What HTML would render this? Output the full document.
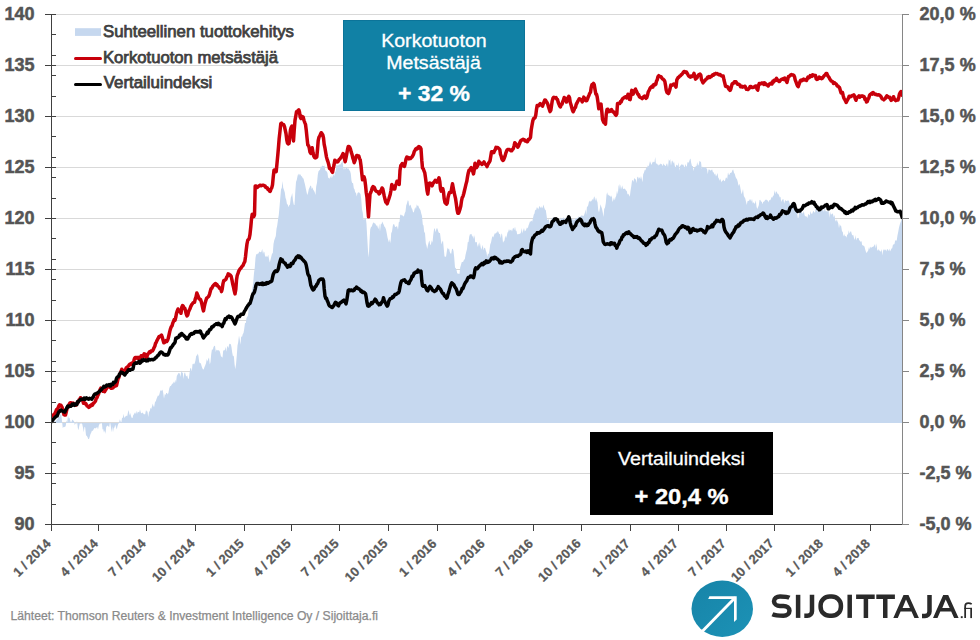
<!DOCTYPE html>
<html><head><meta charset="utf-8"><style>
html,body{margin:0;padding:0;background:#fff;}
body{width:980px;height:640px;overflow:hidden;position:relative;font-family:"Liberation Sans",sans-serif;}
svg{position:absolute;left:0;top:0;}
</style></head><body>
<svg width="980" height="640" viewBox="0 0 980 640" font-family="Liberation Sans, sans-serif">
<g stroke="#d9d9d9" stroke-width="1" shape-rendering="crispEdges">
<line x1="51.5" y1="473.5" x2="902.5" y2="473.5"/>
<line x1="51.5" y1="422.5" x2="902.5" y2="422.5"/>
<line x1="51.5" y1="371.5" x2="902.5" y2="371.5"/>
<line x1="51.5" y1="320.5" x2="902.5" y2="320.5"/>
<line x1="51.5" y1="269.5" x2="902.5" y2="269.5"/>
<line x1="51.5" y1="218.5" x2="902.5" y2="218.5"/>
<line x1="51.5" y1="167.5" x2="902.5" y2="167.5"/>
<line x1="51.5" y1="116.5" x2="902.5" y2="116.5"/>
<line x1="51.5" y1="65.5" x2="902.5" y2="65.5"/>
<line x1="51.5" y1="14.5" x2="902.5" y2="14.5"/>
</g>
<defs><clipPath id="pc"><rect x="51.5" y="0" width="851" height="524"/></clipPath></defs>
<g clip-path="url(#pc)">
<polygon points="51.5,423.0 51.5,422.5 52.2,421.8 53.0,421.2 53.8,421.1 54.5,421.3 55.2,421.4 56.0,420.9 56.8,419.8 57.5,418.9 58.2,418.0 59.0,417.1 59.8,416.2 60.5,414.6 61.2,413.6 62.0,421.1 62.8,428.3 63.5,427.0 64.2,426.7 65.0,427.2 65.8,425.4 66.5,420.3 67.2,422.6 68.0,415.1 68.8,418.5 69.5,417.4 70.2,420.6 71.0,422.9 71.8,420.8 72.5,419.5 73.2,420.6 74.0,420.9 74.8,425.2 75.5,423.0 76.2,424.5 77.0,420.7 77.8,428.1 78.5,430.3 79.2,426.2 80.0,422.9 80.8,423.9 81.5,423.3 82.2,423.9 83.0,427.8 83.8,432.2 84.5,426.8 85.2,427.6 86.0,435.2 86.8,436.0 87.5,437.0 88.2,439.0 89.0,439.1 89.8,436.5 90.5,433.9 91.2,432.8 92.0,430.6 92.8,431.0 93.5,429.6 94.2,428.3 95.0,428.1 95.8,428.4 96.5,427.6 97.2,427.0 98.0,429.6 98.8,425.6 99.5,424.0 100.2,422.9 101.0,424.3 101.8,422.0 102.5,429.6 103.2,429.0 104.0,432.7 104.8,430.3 105.5,434.1 106.2,427.1 107.0,426.1 107.8,425.5 108.5,426.6 109.2,426.9 110.0,422.0 110.8,426.0 111.5,432.6 112.2,426.2 113.0,432.2 113.8,427.9 114.5,427.4 115.2,424.6 116.0,427.2 116.8,429.4 117.5,426.3 118.2,424.0 119.0,423.1 119.8,419.3 120.5,420.9 121.2,423.4 122.0,418.1 122.8,417.8 123.5,413.8 124.2,418.3 125.0,416.4 125.8,416.5 126.5,415.4 127.2,416.2 128.0,412.2 128.8,410.0 129.5,415.4 130.2,413.1 131.0,416.0 131.8,417.9 132.5,417.9 133.2,415.3 134.0,414.2 134.8,412.5 135.5,414.1 136.2,410.7 137.0,413.9 137.8,411.8 138.5,412.1 139.2,412.4 140.0,409.6 140.8,412.4 141.5,413.6 142.2,412.4 143.0,413.0 143.8,414.3 144.5,414.2 145.2,414.2 146.0,410.0 146.8,411.4 147.5,411.5 148.2,416.9 149.0,412.1 149.8,411.1 150.5,407.8 151.2,409.1 152.0,406.4 152.8,403.4 153.5,406.5 154.2,406.8 155.0,402.0 155.8,401.2 156.5,398.9 157.2,397.2 158.0,395.2 158.8,396.1 159.5,393.7 160.2,391.0 161.0,389.9 161.8,390.9 162.5,389.5 163.2,392.7 164.0,398.8 164.8,394.0 165.5,394.9 166.2,393.1 167.0,393.1 167.8,394.4 168.5,392.5 169.2,388.6 170.0,386.3 170.8,386.1 171.5,385.0 172.2,383.5 173.0,383.7 173.8,381.4 174.5,383.2 175.2,379.7 176.0,382.7 176.8,375.9 177.5,374.7 178.2,373.5 179.0,372.7 179.8,373.8 180.5,376.9 181.2,370.5 182.0,372.9 182.8,372.2 183.5,379.3 184.2,373.6 185.0,372.2 185.8,375.6 186.5,376.5 187.2,375.2 188.0,378.5 188.8,379.0 189.5,373.6 190.2,368.4 191.0,367.9 191.8,371.6 192.5,364.2 193.2,363.6 194.0,364.6 194.8,363.1 195.5,360.2 196.2,355.8 197.0,355.4 197.8,353.5 198.5,356.2 199.2,362.1 200.0,363.6 200.8,363.1 201.5,365.7 202.2,367.8 203.0,369.4 203.8,369.2 204.5,367.1 205.2,365.4 206.0,363.3 206.8,359.0 207.5,361.4 208.2,359.0 209.0,357.6 209.8,364.5 210.5,362.1 211.2,354.2 212.0,348.9 212.8,350.1 213.5,347.0 214.2,346.1 215.0,345.8 215.8,352.0 216.5,349.5 217.2,350.6 218.0,350.0 218.8,350.4 219.5,350.7 220.2,353.1 221.0,356.6 221.8,356.7 222.5,357.7 223.2,350.6 224.0,350.6 224.8,349.9 225.5,346.8 226.2,351.7 227.0,347.6 227.8,345.7 228.5,348.2 229.2,343.4 230.0,344.4 230.8,343.7 231.5,347.2 232.2,352.5 233.0,356.4 233.8,355.6 234.5,363.4 235.2,369.2 236.0,364.5 236.8,355.2 237.5,345.6 238.2,342.2 239.0,335.6 239.8,339.8 240.5,344.8 241.2,336.3 242.0,336.9 242.8,334.0 243.5,333.0 244.2,328.9 245.0,323.1 245.8,323.1 246.5,318.1 247.2,316.9 248.0,315.4 248.8,306.3 249.5,301.2 250.2,298.0 251.0,297.5 251.8,291.6 252.5,287.4 253.2,282.5 254.0,272.9 254.8,267.3 255.5,257.8 256.2,254.0 257.0,254.5 257.8,253.4 258.5,253.4 259.2,251.4 260.0,251.9 260.8,252.2 261.5,251.4 262.2,248.7 263.0,254.1 263.8,251.2 264.5,252.6 265.2,257.2 266.0,255.6 266.8,256.9 267.5,256.8 268.2,254.8 269.0,259.1 269.8,262.4 270.5,259.7 271.2,257.0 272.0,253.7 272.8,252.9 273.5,244.1 274.2,240.4 275.0,238.3 275.8,236.0 276.5,228.8 277.2,225.7 278.0,219.7 278.8,214.7 279.5,207.1 280.2,198.8 281.0,189.6 281.8,187.7 282.5,181.0 283.2,187.8 284.0,189.9 284.8,192.4 285.5,197.8 286.2,199.8 287.0,204.3 287.8,204.5 288.5,207.3 289.2,205.2 290.0,204.6 290.8,197.6 291.5,196.1 292.2,192.9 293.0,200.7 293.8,204.8 294.5,205.0 295.2,192.9 296.0,182.0 296.8,179.8 297.5,176.2 298.2,173.4 299.0,175.7 299.8,173.8 300.5,174.7 301.2,176.0 302.0,176.4 302.8,178.2 303.5,178.6 304.2,181.4 305.0,184.4 305.8,188.5 306.5,191.7 307.2,195.1 308.0,193.1 308.8,189.1 309.5,187.7 310.2,186.0 311.0,185.6 311.8,189.2 312.5,187.2 313.2,189.8 314.0,190.7 314.8,192.5 315.5,195.0 316.2,186.5 317.0,182.8 317.8,174.8 318.5,171.3 319.2,170.5 320.0,169.8 320.8,166.5 321.5,167.0 322.2,165.4 323.0,166.1 323.8,166.0 324.5,165.5 325.2,170.1 326.0,171.0 326.8,171.5 327.5,172.9 328.2,178.3 329.0,177.4 329.8,178.9 330.5,176.0 331.2,178.3 332.0,174.9 332.8,177.7 333.5,173.3 334.2,176.3 335.0,172.3 335.8,171.0 336.5,164.0 337.2,166.1 338.0,164.8 338.8,165.4 339.5,164.3 340.2,164.7 341.0,163.5 341.8,162.2 342.5,160.6 343.2,167.2 344.0,170.1 344.8,166.8 345.5,169.4 346.2,166.7 347.0,168.2 347.8,168.7 348.5,168.2 349.2,170.2 350.0,170.8 350.8,173.7 351.5,180.8 352.2,183.3 353.0,182.7 353.8,188.3 354.5,189.3 355.2,192.2 356.0,193.0 356.8,196.6 357.5,193.1 358.2,192.5 359.0,192.3 359.8,193.2 360.5,193.9 361.2,198.8 362.0,209.5 362.8,213.0 363.5,219.7 364.2,218.9 365.0,219.5 365.8,217.8 366.5,224.0 367.2,236.7 368.0,251.1 368.8,257.4 369.5,241.4 370.2,229.5 371.0,227.1 371.8,226.4 372.5,224.3 373.2,222.6 374.0,222.7 374.8,223.4 375.5,223.7 376.2,225.9 377.0,225.0 377.8,227.6 378.5,229.3 379.2,223.5 380.0,231.5 380.8,224.0 381.5,224.3 382.2,221.4 383.0,223.3 383.8,224.9 384.5,226.7 385.2,227.4 386.0,229.5 386.8,233.5 387.5,237.5 388.2,240.0 389.0,242.5 389.8,238.9 390.5,243.6 391.2,233.3 392.0,231.6 392.8,225.7 393.5,224.1 394.2,224.2 395.0,226.8 395.8,226.9 396.5,226.2 397.2,226.5 398.0,229.7 398.8,222.3 399.5,221.8 400.2,215.0 401.0,214.5 401.8,215.4 402.5,215.3 403.2,216.5 404.0,216.0 404.8,213.1 405.5,211.6 406.2,205.6 407.0,203.3 407.8,200.2 408.5,200.9 409.2,206.6 410.0,204.6 410.8,205.6 411.5,207.9 412.2,208.9 413.0,211.9 413.8,212.5 414.5,209.4 415.2,206.9 416.0,209.0 416.8,204.3 417.5,205.9 418.2,205.6 419.0,207.7 419.8,209.1 420.5,210.3 421.2,213.2 422.0,216.0 422.8,224.6 423.5,225.5 424.2,232.1 425.0,232.9 425.8,243.2 426.5,245.4 427.2,249.0 428.0,245.1 428.8,241.9 429.5,240.6 430.2,245.2 431.0,243.9 431.8,240.2 432.5,242.8 433.2,235.2 434.0,229.6 434.8,227.9 435.5,232.3 436.2,229.6 437.0,227.8 437.8,229.7 438.5,232.3 439.2,232.9 440.0,233.0 440.8,239.4 441.5,244.6 442.2,242.1 443.0,240.4 443.8,249.0 444.5,256.5 445.2,256.6 446.0,257.0 446.8,251.6 447.5,247.6 448.2,249.5 449.0,248.3 449.8,252.0 450.5,253.5 451.2,253.8 452.0,249.0 452.8,248.8 453.5,251.1 454.2,257.2 455.0,267.6 455.8,268.2 456.5,270.1 457.2,272.9 458.0,273.9 458.8,273.4 459.5,274.0 460.2,267.4 461.0,264.7 461.8,262.0 462.5,262.0 463.2,261.7 464.0,259.7 464.8,259.2 465.5,254.9 466.2,252.0 467.0,248.9 467.8,242.1 468.5,242.2 469.2,236.8 470.0,234.1 470.8,234.4 471.5,233.8 472.2,237.1 473.0,235.3 473.8,239.1 474.5,235.1 475.2,242.3 476.0,242.2 476.8,242.1 477.5,247.3 478.2,242.9 479.0,246.7 479.8,242.1 480.5,246.2 481.2,249.7 482.0,247.6 482.8,244.7 483.5,250.5 484.2,248.0 485.0,247.7 485.8,250.6 486.5,252.5 487.2,257.0 488.0,253.2 488.8,254.3 489.5,250.1 490.2,244.6 491.0,242.6 491.8,238.4 492.5,235.9 493.2,237.6 494.0,235.2 494.8,233.3 495.5,233.8 496.2,232.2 497.0,232.9 497.8,230.7 498.5,232.3 499.2,234.2 500.0,233.7 500.8,238.2 501.5,233.3 502.2,234.8 503.0,242.8 503.8,241.3 504.5,240.4 505.2,235.5 506.0,238.3 506.8,235.7 507.5,232.4 508.2,231.8 509.0,229.0 509.8,231.0 510.5,229.9 511.2,229.6 512.0,231.6 512.8,228.6 513.5,227.7 514.2,230.2 515.0,226.4 515.8,230.8 516.5,230.7 517.2,234.4 518.0,234.1 518.8,234.2 519.5,233.7 520.2,233.7 521.0,232.2 521.8,228.1 522.5,233.5 523.2,230.4 524.0,228.1 524.8,231.5 525.5,230.8 526.2,229.6 527.0,227.3 527.8,228.4 528.5,225.4 529.2,223.8 530.0,221.2 530.8,221.8 531.5,220.6 532.2,221.7 533.0,218.1 533.8,214.4 534.5,213.5 535.2,209.4 536.0,210.6 536.8,207.3 537.5,207.8 538.2,209.6 539.0,207.3 539.8,205.7 540.5,208.2 541.2,206.2 542.0,208.6 542.8,207.0 543.5,204.4 544.2,207.6 545.0,209.4 545.8,210.3 546.5,214.9 547.2,220.1 548.0,219.8 548.8,219.1 549.5,224.6 550.2,220.2 551.0,220.9 551.8,219.0 552.5,217.5 553.2,218.2 554.0,219.0 554.8,217.3 555.5,217.5 556.2,219.1 557.0,219.6 557.8,217.6 558.5,220.1 559.2,223.3 560.0,221.3 560.8,217.6 561.5,218.6 562.2,218.5 563.0,218.8 563.8,216.8 564.5,221.4 565.2,217.9 566.0,217.8 566.8,219.1 567.5,217.0 568.2,217.0 569.0,219.0 569.8,218.5 570.5,219.1 571.2,218.4 572.0,219.4 572.8,219.4 573.5,219.5 574.2,219.9 575.0,219.3 575.8,217.7 576.5,218.8 577.2,217.6 578.0,218.5 578.8,215.9 579.5,217.9 580.2,216.3 581.0,216.6 581.8,214.9 582.5,215.8 583.2,216.3 584.0,215.2 584.8,212.9 585.5,209.3 586.2,214.8 587.0,206.3 587.8,206.7 588.5,203.9 589.2,200.4 590.0,202.1 590.8,201.0 591.5,201.3 592.2,198.8 593.0,200.4 593.8,197.5 594.5,196.3 595.2,200.9 596.0,197.6 596.8,200.6 597.5,202.3 598.2,209.8 599.0,212.5 599.8,208.7 600.5,204.3 601.2,206.6 602.0,208.7 602.8,212.8 603.5,217.0 604.2,209.0 605.0,207.4 605.8,203.1 606.5,194.7 607.2,192.3 608.0,195.8 608.8,194.5 609.5,196.0 610.2,195.8 611.0,197.5 611.8,195.2 612.5,201.9 613.2,200.2 614.0,197.6 614.8,200.5 615.5,197.3 616.2,195.9 617.0,190.6 617.8,194.5 618.5,186.6 619.2,184.0 620.0,189.4 620.8,184.6 621.5,189.4 622.2,185.3 623.0,188.8 623.8,189.0 624.5,188.5 625.2,189.0 626.0,190.6 626.8,191.1 627.5,194.4 628.2,193.8 629.0,195.1 629.8,196.8 630.5,190.9 631.2,186.7 632.0,180.8 632.8,180.1 633.5,182.1 634.2,177.7 635.0,179.2 635.8,179.2 636.5,183.3 637.2,177.5 638.0,176.6 638.8,179.0 639.5,176.9 640.2,179.3 641.0,176.0 641.8,179.0 642.5,182.2 643.2,174.2 644.0,172.4 644.8,169.8 645.5,170.6 646.2,167.1 647.0,168.5 647.8,165.3 648.5,166.4 649.2,164.6 650.0,161.0 650.8,163.3 651.5,164.9 652.2,163.1 653.0,161.6 653.8,162.2 654.5,161.9 655.2,157.1 656.0,164.0 656.8,163.2 657.5,164.2 658.2,165.8 659.0,164.3 659.8,165.0 660.5,163.5 661.2,164.1 662.0,164.4 662.8,166.2 663.5,163.3 664.2,164.8 665.0,165.6 665.8,166.3 666.5,163.7 667.2,163.4 668.0,167.2 668.8,159.2 669.5,161.1 670.2,159.1 671.0,165.7 671.8,161.0 672.5,160.5 673.2,163.4 674.0,161.3 674.8,165.7 675.5,168.3 676.2,164.6 677.0,165.4 677.8,165.4 678.5,162.3 679.2,170.8 680.0,165.1 680.8,166.0 681.5,163.9 682.2,164.9 683.0,164.2 683.8,165.8 684.5,168.5 685.2,164.1 686.0,166.0 686.8,166.7 687.5,162.1 688.2,162.8 689.0,162.0 689.8,159.6 690.5,158.6 691.2,163.0 692.0,165.9 692.8,166.1 693.5,171.3 694.2,166.9 695.0,168.5 695.8,165.7 696.5,166.3 697.2,161.9 698.0,165.8 698.8,164.4 699.5,160.8 700.2,161.6 701.0,162.0 701.8,169.1 702.5,166.4 703.2,167.6 704.0,167.0 704.8,167.9 705.5,166.9 706.2,168.2 707.0,168.8 707.8,174.3 708.5,169.4 709.2,169.5 710.0,170.0 710.8,170.7 711.5,169.8 712.2,169.5 713.0,172.5 713.8,172.2 714.5,174.7 715.2,173.6 716.0,176.6 716.8,174.9 717.5,173.0 718.2,177.6 719.0,178.7 719.8,180.7 720.5,178.4 721.2,182.6 722.0,180.8 722.8,180.7 723.5,179.4 724.2,181.2 725.0,180.7 725.8,177.8 726.5,177.5 727.2,178.9 728.0,172.3 728.8,174.9 729.5,174.7 730.2,172.7 731.0,173.1 731.8,171.9 732.5,170.1 733.2,169.5 734.0,172.8 734.8,174.0 735.5,176.8 736.2,178.3 737.0,179.2 737.8,181.9 738.5,186.0 739.2,183.8 740.0,185.9 740.8,190.3 741.5,194.2 742.2,192.5 743.0,188.9 743.8,195.7 744.5,197.2 745.2,198.3 746.0,201.7 746.8,205.1 747.5,201.2 748.2,200.8 749.0,201.0 749.8,199.2 750.5,199.4 751.2,201.7 752.0,198.7 752.8,203.5 753.5,202.0 754.2,203.4 755.0,203.5 755.8,200.2 756.5,206.6 757.2,208.9 758.0,207.2 758.8,205.2 759.5,200.0 760.2,199.7 761.0,201.4 761.8,201.8 762.5,204.3 763.2,201.7 764.0,201.8 764.8,200.4 765.5,199.7 766.2,199.6 767.0,200.2 767.8,200.6 768.5,202.5 769.2,200.0 770.0,200.5 770.8,199.3 771.5,196.9 772.2,197.7 773.0,196.0 773.8,195.2 774.5,190.1 775.2,194.2 776.0,191.2 776.8,191.9 777.5,193.7 778.2,193.8 779.0,195.2 779.8,197.5 780.5,196.7 781.2,202.1 782.0,200.1 782.8,199.3 783.5,199.2 784.2,203.8 785.0,200.3 785.8,200.4 786.5,201.2 787.2,200.5 788.0,200.7 788.8,200.6 789.5,203.1 790.2,205.2 791.0,203.2 791.8,204.1 792.5,206.4 793.2,205.2 794.0,208.5 794.8,206.9 795.5,209.7 796.2,212.1 797.0,211.8 797.8,218.1 798.5,217.8 799.2,212.0 800.0,210.6 800.8,212.6 801.5,211.1 802.2,213.6 803.0,213.3 803.8,210.9 804.5,214.9 805.2,216.5 806.0,216.1 806.8,217.1 807.5,218.0 808.2,213.8 809.0,214.7 809.8,215.6 810.5,210.9 811.2,213.2 812.0,214.2 812.8,212.0 813.5,210.7 814.2,212.1 815.0,212.8 815.8,206.9 816.5,209.1 817.2,211.3 818.0,211.6 818.8,209.7 819.5,211.1 820.2,209.7 821.0,210.3 821.8,210.9 822.5,209.4 823.2,210.1 824.0,212.0 824.8,206.8 825.5,211.1 826.2,211.5 827.0,211.1 827.8,211.7 828.5,208.5 829.2,218.1 830.0,211.5 830.8,214.5 831.5,214.5 832.2,213.3 833.0,214.2 833.8,217.5 834.5,214.8 835.2,220.0 836.0,221.8 836.8,219.2 837.5,221.5 838.2,222.9 839.0,228.2 839.8,224.0 840.5,225.7 841.2,226.3 842.0,231.3 842.8,232.1 843.5,236.4 844.2,233.9 845.0,236.4 845.8,235.7 846.5,237.8 847.2,234.6 848.0,234.6 848.8,230.2 849.5,233.4 850.2,231.9 851.0,231.1 851.8,234.3 852.5,235.4 853.2,234.8 854.0,237.9 854.8,240.0 855.5,235.1 856.2,240.4 857.0,238.0 857.8,238.3 858.5,237.8 859.2,240.3 860.0,240.7 860.8,242.1 861.5,241.1 862.2,245.2 863.0,245.2 863.8,246.0 864.5,246.6 865.2,249.5 866.0,251.9 866.8,253.0 867.5,251.4 868.2,250.6 869.0,247.0 869.8,249.6 870.5,246.5 871.2,247.9 872.0,246.8 872.8,247.0 873.5,246.4 874.2,245.4 875.0,244.0 875.8,248.6 876.5,243.3 877.2,249.9 878.0,250.7 878.8,248.9 879.5,250.7 880.2,251.1 881.0,251.9 881.8,249.0 882.5,255.5 883.2,250.6 884.0,248.9 884.8,250.6 885.5,249.3 886.2,251.6 887.0,249.2 887.8,249.3 888.5,251.3 889.2,248.4 890.0,251.6 890.8,250.0 891.5,248.6 892.2,248.3 893.0,244.5 893.8,244.4 894.5,244.0 895.2,240.1 896.0,241.0 896.8,240.1 897.5,235.2 898.2,231.9 899.0,227.6 899.8,224.5 900.5,222.6 901.2,220.4 902.0,219.3 902.2,219.0 902.2,423.0" fill="#c6d8ef"/>
<polyline points="51.2,416.6 52.0,416.0 52.8,415.5 53.5,414.9 54.2,414.3 55.0,413.1 55.8,411.7 56.5,409.7 57.2,409.2 58.0,408.1 58.8,406.0 59.5,404.8 60.2,405.2 61.0,405.2 61.8,406.7 62.5,408.6 63.2,411.6 64.0,414.7 64.8,415.0 65.5,415.1 66.2,412.1 67.0,408.9 67.8,406.2 68.5,406.6 69.2,404.2 70.0,402.9 70.8,402.7 71.5,403.3 72.2,403.4 73.0,403.1 73.8,403.6 74.5,404.1 75.2,404.7 76.0,405.2 76.8,404.2 77.5,402.0 78.2,402.1 79.0,400.0 79.8,399.4 80.5,397.7 81.2,398.3 82.0,399.0 82.8,400.6 83.5,403.3 84.2,402.6 85.0,403.8 85.8,403.5 86.5,404.8 87.2,406.0 88.0,406.4 88.8,407.4 89.5,406.7 90.2,405.6 91.0,405.8 91.8,404.5 92.5,405.1 93.2,403.2 94.0,403.0 94.8,402.0 95.5,401.0 96.2,398.6 97.0,397.7 97.8,395.4 98.5,394.3 99.2,392.0 100.0,389.8 100.8,388.2 101.5,389.6 102.2,390.1 103.0,391.3 103.8,390.9 104.5,391.7 105.2,390.6 106.0,389.3 106.8,388.1 107.5,387.0 108.2,386.7 109.0,386.6 109.8,387.1 110.5,387.7 111.2,388.3 112.0,388.2 112.8,387.9 113.5,387.2 114.2,386.7 115.0,385.9 115.8,385.7 116.5,385.7 117.2,382.7 118.0,379.0 118.8,377.6 119.5,374.9 120.2,373.5 121.0,371.6 121.8,369.2 122.5,371.1 123.2,371.0 124.0,370.4 124.8,370.8 125.5,369.5 126.2,368.0 127.0,367.4 127.8,366.6 128.5,366.0 129.2,364.8 130.0,364.1 130.8,364.5 131.5,363.3 132.2,363.9 133.0,363.0 133.8,360.8 134.5,358.5 135.2,357.4 136.0,357.4 136.8,357.8 137.5,358.5 138.2,357.4 139.0,358.0 139.8,358.3 140.5,357.5 141.2,355.7 142.0,356.7 142.8,356.8 143.5,355.4 144.2,353.8 145.0,354.3 145.8,356.2 146.5,358.4 147.2,355.8 148.0,353.9 148.8,353.0 149.5,351.8 150.2,352.5 151.0,351.0 151.8,350.9 152.5,350.9 153.2,349.7 154.0,347.8 154.8,346.2 155.5,343.5 156.2,342.3 157.0,340.6 157.8,338.9 158.5,337.8 159.2,336.4 160.0,336.5 160.8,335.7 161.5,335.1 162.2,337.1 163.0,339.9 163.8,342.8 164.5,342.6 165.2,341.9 166.0,340.6 166.8,341.4 167.5,340.5 168.2,338.5 169.0,335.0 169.8,331.4 170.5,328.8 171.2,326.9 172.0,325.9 172.8,323.1 173.5,321.4 174.2,319.5 175.0,320.3 175.8,317.2 176.5,313.2 177.2,311.1 178.0,309.0 178.8,311.4 179.5,310.0 180.2,311.1 181.0,313.3 181.8,307.2 182.5,305.6 183.2,306.0 184.0,308.3 184.8,308.3 185.5,310.8 186.2,313.8 187.0,315.9 187.8,314.9 188.5,311.9 189.2,310.3 190.0,308.8 190.8,306.4 191.5,305.1 192.2,304.1 193.0,302.9 193.8,302.3 194.5,302.3 195.2,299.2 196.0,297.0 196.8,293.0 197.5,294.7 198.2,296.3 199.0,298.8 199.8,299.1 200.5,299.5 201.2,301.3 202.0,304.6 202.8,308.5 203.5,310.9 204.2,307.2 205.0,303.5 205.8,300.8 206.5,298.5 207.2,297.7 208.0,297.0 208.8,296.2 209.5,294.3 210.2,291.7 211.0,288.7 211.8,288.4 212.5,286.6 213.2,285.7 214.0,284.8 214.8,284.0 215.5,283.6 216.2,285.1 217.0,284.6 217.8,286.2 218.5,286.5 219.2,287.6 220.0,288.7 220.8,288.7 221.5,291.6 222.2,289.1 223.0,283.6 223.8,280.5 224.5,280.4 225.2,279.8 226.0,279.1 226.8,276.9 227.5,276.1 228.2,273.9 229.0,274.1 229.8,275.2 230.5,275.3 231.2,276.5 232.0,280.2 232.8,284.4 233.5,287.2 234.2,290.6 235.0,293.9 235.8,289.5 236.5,280.1 237.2,275.5 238.0,273.4 238.8,271.0 239.5,269.8 240.2,268.8 241.0,268.0 241.8,266.8 242.5,265.9 243.2,265.2 244.0,263.0 244.8,261.7 245.5,256.7 246.2,250.3 247.0,243.8 247.8,240.1 248.5,239.5 249.2,238.5 250.0,234.4 250.8,226.7 251.5,219.0 252.2,214.3 253.0,216.8 253.8,216.6 254.5,214.8 255.2,186.0 256.0,186.1 256.8,186.6 257.5,187.3 258.2,186.4 259.0,185.9 259.8,185.3 260.5,185.2 261.2,185.8 262.0,185.4 262.8,185.2 263.5,185.3 264.2,185.7 265.0,185.9 265.8,187.5 266.5,187.5 267.2,187.8 268.0,189.6 268.8,189.5 269.5,191.1 270.2,191.4 271.0,188.9 271.8,187.7 272.5,184.8 273.2,177.3 274.0,170.3 274.8,169.8 275.5,171.7 276.2,171.7 277.0,163.4 277.8,155.0 278.5,147.0 279.2,138.2 280.0,131.1 280.8,123.6 281.5,123.1 282.2,124.1 283.0,124.7 283.8,124.8 284.5,126.6 285.2,129.9 286.0,133.5 286.8,140.1 287.5,143.1 288.2,143.9 289.0,143.5 289.8,136.5 290.5,129.7 291.2,127.3 292.0,126.0 292.8,134.8 293.5,140.9 294.2,130.4 295.0,120.4 295.8,116.0 296.5,111.8 297.2,111.8 298.0,110.5 298.8,109.8 299.5,112.1 300.2,117.2 301.0,118.5 301.8,116.4 302.5,116.6 303.2,117.2 304.0,120.5 304.8,122.6 305.5,124.3 306.2,129.7 307.0,137.7 307.8,145.1 308.5,145.5 309.2,147.7 310.0,152.1 310.8,153.4 311.5,150.1 312.2,147.7 313.0,152.7 313.8,156.1 314.5,157.3 315.2,157.9 316.0,157.6 316.8,156.9 317.5,149.5 318.2,140.7 319.0,137.1 319.8,135.9 320.5,134.3 321.2,132.7 322.0,133.7 322.8,135.0 323.5,138.0 324.2,144.4 325.0,148.2 325.8,153.0 326.5,157.1 327.2,159.6 328.0,161.9 328.8,164.8 329.5,168.4 330.2,168.2 331.0,169.6 331.8,171.3 332.5,172.3 333.2,168.7 334.0,165.2 334.8,160.2 335.5,160.7 336.2,161.4 337.0,161.9 337.8,161.8 338.5,160.6 339.2,159.5 340.0,158.9 340.8,157.7 341.5,156.6 342.2,155.5 343.0,153.6 343.8,154.7 344.5,159.1 345.2,161.7 346.0,157.9 346.8,153.7 347.5,149.7 348.2,146.6 349.0,146.5 349.8,147.4 350.5,149.1 351.2,152.1 352.0,154.3 352.8,157.8 353.5,159.8 354.2,162.7 355.0,160.7 355.8,157.6 356.5,155.7 357.2,155.4 358.0,156.0 358.8,156.0 359.5,158.5 360.2,159.8 361.0,165.5 361.8,173.5 362.5,179.7 363.2,178.0 364.0,176.8 364.8,179.6 365.5,184.9 366.2,192.2 367.0,197.3 367.8,208.3 368.5,216.8 369.2,206.2 370.0,194.0 370.8,192.4 371.5,190.5 372.2,187.9 373.0,186.6 373.8,187.0 374.5,187.7 375.2,189.9 376.0,191.0 376.8,191.5 377.5,191.7 378.2,191.9 379.0,193.9 379.8,193.3 380.5,191.0 381.2,190.3 382.0,188.0 382.8,188.9 383.5,192.4 384.2,195.9 385.0,199.3 385.8,202.2 386.5,202.6 387.2,203.8 388.0,201.3 388.8,199.0 389.5,196.8 390.2,194.5 391.0,190.2 391.8,184.4 392.5,186.6 393.2,187.1 394.0,189.0 394.8,188.9 395.5,185.3 396.2,184.1 397.0,181.3 397.8,183.1 398.5,183.0 399.2,184.5 400.0,170.5 400.8,165.5 401.5,164.8 402.2,163.6 403.0,165.1 403.8,166.1 404.5,166.4 405.2,163.4 406.0,159.2 406.8,157.1 407.5,157.2 408.2,157.8 409.0,158.9 409.8,157.9 410.5,158.4 411.2,157.7 412.0,157.0 412.8,155.7 413.5,154.2 414.2,151.7 415.0,150.4 415.8,148.8 416.5,148.3 417.2,148.9 418.0,147.2 418.8,146.5 419.5,147.8 420.2,147.3 421.0,148.8 421.8,160.4 422.5,168.0 423.2,168.7 424.0,170.8 424.8,172.9 425.5,177.7 426.2,183.2 427.0,190.4 427.8,194.1 428.5,188.3 429.2,183.2 430.0,183.1 430.8,183.4 431.5,184.5 432.2,185.8 433.0,183.5 433.8,182.4 434.5,181.5 435.2,180.3 436.0,181.0 436.8,182.1 437.5,181.8 438.2,179.6 439.0,177.8 439.8,181.7 440.5,189.2 441.2,191.1 442.0,189.5 442.8,188.5 443.5,191.9 444.2,198.7 445.0,202.6 445.8,203.4 446.5,204.2 447.2,203.3 448.0,197.7 448.8,194.3 449.5,192.4 450.2,192.5 451.0,192.5 451.8,187.4 452.5,183.8 453.2,187.5 454.0,192.0 454.8,195.3 455.5,198.3 456.2,203.1 457.0,209.3 457.8,213.2 458.5,213.3 459.2,211.5 460.0,209.2 460.8,206.0 461.5,201.0 462.2,197.7 463.0,196.3 463.8,193.5 464.5,190.5 465.2,187.6 466.0,184.1 466.8,181.2 467.5,176.9 468.2,173.2 469.0,170.3 469.8,170.3 470.5,168.5 471.2,167.6 472.0,169.5 472.8,171.6 473.5,173.9 474.2,170.0 475.0,163.3 475.8,165.5 476.5,167.6 477.2,166.3 478.0,165.1 478.8,161.3 479.5,162.3 480.2,163.0 481.0,163.2 481.8,164.4 482.5,164.0 483.2,163.1 484.0,161.9 484.8,163.6 485.5,164.4 486.2,164.7 487.0,166.7 487.8,164.5 488.5,163.3 489.2,162.2 490.0,160.9 490.8,156.1 491.5,151.8 492.2,151.7 493.0,151.8 493.8,152.6 494.5,150.6 495.2,149.8 496.0,147.4 496.8,147.6 497.5,147.4 498.2,147.9 499.0,148.7 499.8,149.6 500.5,154.4 501.2,156.2 502.0,159.2 502.8,160.4 503.5,160.0 504.2,158.4 505.0,156.2 505.8,153.1 506.5,151.3 507.2,149.8 508.0,149.5 508.8,149.4 509.5,149.7 510.2,150.2 511.0,150.8 511.8,150.7 512.5,149.4 513.2,148.8 514.0,146.2 514.8,142.7 515.5,143.4 516.2,144.4 517.0,145.5 517.8,147.2 518.5,146.0 519.2,144.2 520.0,142.3 520.8,140.6 521.5,140.1 522.2,140.0 523.0,139.2 523.8,139.8 524.5,139.8 525.2,141.0 526.0,141.1 526.8,141.8 527.5,141.7 528.2,139.6 529.0,139.7 529.8,138.4 530.5,137.4 531.2,130.0 532.0,125.2 532.8,120.9 533.5,118.7 534.2,118.4 535.0,117.7 535.8,114.9 536.5,109.4 537.2,105.4 538.0,105.6 538.8,105.7 539.5,104.5 540.2,103.6 541.0,104.5 541.8,105.3 542.5,106.1 543.2,104.1 544.0,101.9 544.8,100.0 545.5,100.2 546.2,101.5 547.0,102.6 547.8,104.3 548.5,106.9 549.2,109.0 550.0,111.6 550.8,110.4 551.5,105.7 552.2,101.1 553.0,98.1 553.8,97.2 554.5,97.6 555.2,97.9 556.0,97.6 556.8,99.3 557.5,99.5 558.2,102.3 559.0,104.4 559.8,106.2 560.5,106.8 561.2,104.2 562.0,104.2 562.8,101.5 563.5,100.0 564.2,97.5 565.0,98.3 565.8,100.2 566.5,102.0 567.2,99.5 568.0,97.9 568.8,96.3 569.5,97.6 570.2,102.2 571.0,104.7 571.8,107.8 572.5,110.2 573.2,111.8 574.0,110.1 574.8,108.0 575.5,107.4 576.2,104.3 577.0,103.0 577.8,101.3 578.5,100.1 579.2,98.8 580.0,98.9 580.8,99.7 581.5,100.2 582.2,101.9 583.0,100.5 583.8,97.1 584.5,98.2 585.2,99.7 586.0,100.8 586.8,100.6 587.5,99.0 588.2,96.9 589.0,95.2 589.8,93.2 590.5,92.3 591.2,87.4 592.0,84.6 592.8,84.5 593.5,83.4 594.2,84.6 595.0,89.4 595.8,94.0 596.5,94.2 597.2,97.0 598.0,102.4 598.8,108.7 599.5,107.9 600.2,105.8 601.0,104.0 601.8,111.5 602.5,119.4 603.2,121.2 604.0,122.8 604.8,122.8 605.5,124.1 606.2,114.6 607.0,109.5 607.8,109.3 608.5,111.6 609.2,110.5 610.0,111.5 610.8,110.2 611.5,109.5 612.2,110.9 613.0,111.9 613.8,112.0 614.5,113.2 615.2,114.5 616.0,115.3 616.8,113.9 617.5,103.5 618.2,103.7 619.0,103.4 619.8,103.5 620.5,101.5 621.2,101.9 622.0,99.7 622.8,98.6 623.5,98.2 624.2,97.4 625.0,96.9 625.8,96.8 626.5,97.9 627.2,97.0 628.0,94.3 628.8,95.4 629.5,99.4 630.2,99.6 631.0,94.2 631.8,90.4 632.5,92.1 633.2,94.1 634.0,91.5 634.8,90.2 635.5,89.1 636.2,90.8 637.0,92.4 637.8,94.2 638.5,94.4 639.2,96.4 640.0,97.2 640.8,97.6 641.5,97.9 642.2,98.6 643.0,97.6 643.8,96.6 644.5,96.0 645.2,97.5 646.0,98.3 646.8,97.5 647.5,95.3 648.2,92.0 649.0,90.6 649.8,88.9 650.5,87.6 651.2,87.0 652.0,86.2 652.8,87.2 653.5,84.8 654.2,84.4 655.0,85.0 655.8,84.3 656.5,81.2 657.2,79.9 658.0,76.6 658.8,75.7 659.5,76.6 660.2,76.6 661.0,76.7 661.8,78.0 662.5,78.9 663.2,79.2 664.0,80.0 664.8,81.3 665.5,85.1 666.2,90.0 667.0,92.6 667.8,93.1 668.5,93.6 669.2,91.7 670.0,89.0 670.8,85.0 671.5,85.7 672.2,85.2 673.0,84.5 673.8,84.0 674.5,84.4 675.2,85.8 676.0,87.1 676.8,80.0 677.5,78.6 678.2,77.4 679.0,77.2 679.8,75.9 680.5,75.9 681.2,74.8 682.0,74.3 682.8,73.1 683.5,72.0 684.2,71.4 685.0,71.6 685.8,72.4 686.5,72.1 687.2,73.3 688.0,74.8 688.8,76.2 689.5,76.7 690.2,77.2 691.0,76.0 691.8,76.6 692.5,75.9 693.2,75.3 694.0,73.3 694.8,76.6 695.5,79.1 696.2,78.3 697.0,77.9 697.8,75.9 698.5,75.0 699.2,74.5 700.0,74.1 700.8,75.1 701.5,79.7 702.2,81.0 703.0,82.9 703.8,81.7 704.5,81.0 705.2,80.3 706.0,79.1 706.8,78.9 707.5,77.4 708.2,77.7 709.0,76.5 709.8,77.4 710.5,76.7 711.2,76.6 712.0,75.6 712.8,74.7 713.5,75.2 714.2,74.1 715.0,74.0 715.8,73.4 716.5,73.8 717.2,73.6 718.0,74.3 718.8,74.7 719.5,74.6 720.2,74.6 721.0,75.6 721.8,76.1 722.5,76.1 723.2,76.0 724.0,80.0 724.8,83.1 725.5,86.2 726.2,86.6 727.0,86.5 727.8,87.0 728.5,88.7 729.2,89.5 730.0,90.5 730.8,89.2 731.5,86.2 732.2,83.7 733.0,83.3 733.8,83.0 734.5,81.7 735.2,81.8 736.0,81.7 736.8,83.3 737.5,84.3 738.2,83.9 739.0,84.4 739.8,84.9 740.5,86.7 741.2,86.9 742.0,86.3 742.8,87.1 743.5,86.7 744.2,86.5 745.0,86.2 745.8,88.0 746.5,89.3 747.2,89.3 748.0,89.6 748.8,88.8 749.5,87.7 750.2,86.5 751.0,86.5 751.8,87.4 752.5,87.4 753.2,87.4 754.0,87.2 754.8,86.3 755.5,86.0 756.2,86.0 757.0,89.2 757.8,90.1 758.5,85.6 759.2,83.5 760.0,84.1 760.8,83.9 761.5,83.1 762.2,83.4 763.0,83.0 763.8,84.4 764.5,82.8 765.2,83.4 766.0,84.5 766.8,85.0 767.5,85.3 768.2,86.0 769.0,84.3 769.8,84.2 770.5,83.4 771.2,83.1 772.0,84.0 772.8,81.4 773.5,82.0 774.2,80.3 775.0,80.6 775.8,79.6 776.5,78.3 777.2,80.3 778.0,80.1 778.8,81.4 779.5,81.5 780.2,80.4 781.0,79.8 781.8,79.3 782.5,79.1 783.2,78.6 784.0,79.5 784.8,78.1 785.5,79.5 786.2,80.9 787.0,82.4 787.8,79.2 788.5,76.5 789.2,76.5 790.0,75.5 790.8,74.8 791.5,74.5 792.2,74.9 793.0,75.0 793.8,75.3 794.5,76.7 795.2,79.8 796.0,81.9 796.8,84.2 797.5,85.8 798.2,86.6 799.0,84.4 799.8,82.1 800.5,80.3 801.2,80.0 802.0,80.7 802.8,79.7 803.5,79.2 804.2,80.0 805.0,79.6 805.8,79.8 806.5,80.5 807.2,78.8 808.0,77.1 808.8,77.9 809.5,77.4 810.2,75.6 811.0,75.8 811.8,76.4 812.5,74.9 813.2,75.4 814.0,75.2 814.8,75.7 815.5,75.6 816.2,79.0 817.0,79.4 817.8,79.1 818.5,78.3 819.2,77.1 820.0,78.3 820.8,77.9 821.5,78.7 822.2,78.4 823.0,77.4 823.8,76.2 824.5,75.4 825.2,74.9 826.0,73.5 826.8,73.5 827.5,75.3 828.2,76.4 829.0,77.3 829.8,79.1 830.5,79.9 831.2,81.1 832.0,81.2 832.8,81.9 833.5,83.5 834.2,82.5 835.0,83.4 835.8,83.8 836.5,84.5 837.2,86.0 838.0,85.9 838.8,87.2 839.5,87.4 840.2,90.0 841.0,92.9 841.8,92.7 842.5,92.6 843.2,95.7 844.0,98.4 844.8,99.6 845.5,100.9 846.2,102.5 847.0,100.8 847.8,99.4 848.5,98.2 849.2,96.2 850.0,96.2 850.8,96.7 851.5,96.1 852.2,95.5 853.0,95.4 853.8,94.8 854.5,96.0 855.2,98.5 856.0,100.3 856.8,97.7 857.5,97.2 858.2,96.8 859.0,95.8 859.8,97.2 860.5,96.4 861.2,95.9 862.0,96.3 862.8,96.0 863.5,96.3 864.2,96.9 865.0,99.5 865.8,98.9 866.5,102.0 867.2,101.6 868.0,99.4 868.8,98.1 869.5,95.5 870.2,94.4 871.0,93.9 871.8,93.2 872.5,94.1 873.2,92.6 874.0,93.7 874.8,94.0 875.5,94.5 876.2,94.2 877.0,94.9 877.8,94.9 878.5,94.8 879.2,95.0 880.0,95.5 880.8,96.2 881.5,97.7 882.2,98.9 883.0,99.1 883.8,99.8 884.5,99.1 885.2,98.6 886.0,97.1 886.8,95.8 887.5,96.5 888.2,97.0 889.0,97.5 889.8,97.3 890.5,99.1 891.2,100.3 892.0,99.8 892.8,98.4 893.5,96.7 894.2,98.7 895.0,99.6 895.8,100.7 896.5,100.2 897.2,100.0 898.0,100.0 898.8,96.9 899.5,93.8 900.2,92.6 901.0,91.5 901.8,93.7 902.2,95.3" fill="none" stroke="#c8000b" stroke-width="3.5" stroke-linejoin="round" stroke-linecap="round"/>
<polyline points="51.2,422.0 52.0,421.0 52.8,420.1 53.5,419.1 54.2,418.2 55.0,417.4 55.8,416.7 56.5,415.9 57.2,416.0 58.0,413.7 58.8,411.9 59.5,411.6 60.2,410.5 61.0,410.0 61.8,410.7 62.5,411.0 63.2,411.4 64.0,411.9 64.8,412.1 65.5,410.3 66.2,409.2 67.0,407.5 67.8,406.2 68.5,406.8 69.2,406.0 70.0,406.2 70.8,406.2 71.5,405.5 72.2,404.2 73.0,405.2 73.8,403.9 74.5,405.3 75.2,404.0 76.0,404.0 76.8,404.5 77.5,401.9 78.2,402.1 79.0,400.8 79.8,400.3 80.5,399.4 81.2,399.7 82.0,399.1 82.8,399.3 83.5,399.3 84.2,398.0 85.0,399.5 85.8,398.5 86.5,397.8 87.2,398.3 88.0,399.1 88.8,399.2 89.5,398.3 90.2,398.7 91.0,398.8 91.8,399.2 92.5,397.7 93.2,397.2 94.0,395.1 94.8,394.1 95.5,394.1 96.2,393.7 97.0,392.9 97.8,392.9 98.5,392.1 99.2,391.6 100.0,391.1 100.8,390.0 101.5,389.5 102.2,388.4 103.0,387.8 103.8,386.3 104.5,387.2 105.2,386.5 106.0,386.3 106.8,385.0 107.5,385.6 108.2,385.4 109.0,384.7 109.8,385.9 110.5,386.0 111.2,384.2 112.0,384.5 112.8,384.5 113.5,382.4 114.2,383.0 115.0,382.3 115.8,381.2 116.5,378.4 117.2,377.3 118.0,376.8 118.8,376.2 119.5,374.0 120.2,373.4 121.0,372.2 121.8,372.7 122.5,372.5 123.2,373.6 124.0,374.2 124.8,375.0 125.5,373.7 126.2,372.7 127.0,372.2 127.8,370.9 128.5,369.7 129.2,369.8 130.0,370.3 130.8,369.7 131.5,369.2 132.2,369.3 133.0,369.0 133.8,364.7 134.5,363.6 135.2,363.3 136.0,362.7 136.8,363.2 137.5,362.8 138.2,362.3 139.0,361.4 139.8,363.2 140.5,362.8 141.2,361.9 142.0,360.0 142.8,360.8 143.5,359.7 144.2,360.2 145.0,360.1 145.8,359.9 146.5,360.9 147.2,360.3 148.0,360.6 148.8,359.3 149.5,359.4 150.2,359.9 151.0,359.6 151.8,359.4 152.5,359.7 153.2,359.7 154.0,359.2 154.8,358.9 155.5,357.8 156.2,357.4 157.0,356.6 157.8,355.4 158.5,355.2 159.2,354.0 160.0,352.7 160.8,351.9 161.5,352.1 162.2,352.7 163.0,353.3 163.8,354.6 164.5,354.4 165.2,355.1 166.0,354.5 166.8,355.0 167.5,355.1 168.2,354.4 169.0,352.5 169.8,349.9 170.5,347.8 171.2,347.6 172.0,346.5 172.8,345.4 173.5,344.1 174.2,343.7 175.0,342.4 175.8,338.3 176.5,338.5 177.2,337.5 178.0,337.4 178.8,336.9 179.5,335.0 180.2,335.7 181.0,333.8 181.8,333.5 182.5,334.6 183.2,335.0 184.0,335.9 184.8,336.6 185.5,337.3 186.2,338.9 187.0,339.1 187.8,339.0 188.5,337.1 189.2,336.5 190.0,334.7 190.8,333.9 191.5,333.5 192.2,334.1 193.0,333.2 193.8,333.5 194.5,332.1 195.2,331.6 196.0,332.0 196.8,331.5 197.5,332.0 198.2,332.1 199.0,331.8 199.8,331.0 200.5,331.2 201.2,333.5 202.0,334.3 202.8,336.7 203.5,337.9 204.2,337.0 205.0,336.0 205.8,335.0 206.5,334.1 207.2,332.4 208.0,333.3 208.8,331.4 209.5,329.8 210.2,329.7 211.0,328.9 211.8,326.9 212.5,326.5 213.2,326.7 214.0,325.4 214.8,324.8 215.5,324.6 216.2,323.8 217.0,323.6 217.8,324.4 218.5,323.3 219.2,323.8 220.0,324.9 220.8,325.3 221.5,325.4 222.2,326.6 223.0,323.9 223.8,323.2 224.5,320.8 225.2,318.8 226.0,319.5 226.8,318.0 227.5,317.1 228.2,317.0 229.0,316.0 229.8,317.3 230.5,316.7 231.2,316.9 232.0,317.8 232.8,319.8 233.5,320.8 234.2,322.4 235.0,323.9 235.8,322.0 236.5,319.8 237.2,317.9 238.0,316.4 238.8,316.2 239.5,316.5 240.2,315.3 241.0,314.3 241.8,314.5 242.5,314.2 243.2,314.3 244.0,312.3 244.8,310.7 245.5,309.8 246.2,308.2 247.0,307.0 247.8,305.6 248.5,305.0 249.2,303.7 250.0,303.6 250.8,300.9 251.5,298.8 252.2,296.0 253.0,293.9 253.8,293.2 254.5,291.7 255.2,289.1 256.0,285.2 256.8,283.6 257.5,283.7 258.2,283.5 259.0,284.1 259.8,284.3 260.5,283.8 261.2,283.4 262.0,284.5 262.8,283.2 263.5,284.4 264.2,284.1 265.0,284.2 265.8,283.0 266.5,283.8 267.2,282.7 268.0,283.3 268.8,282.7 269.5,282.3 270.2,281.7 271.0,281.7 271.8,281.0 272.5,277.6 273.2,274.5 274.0,272.7 274.8,271.6 275.5,270.9 276.2,271.3 277.0,271.4 277.8,270.3 278.5,268.1 279.2,264.4 280.0,261.5 280.8,258.9 281.5,259.4 282.2,259.8 283.0,261.7 283.8,262.3 284.5,262.9 285.2,263.3 286.0,265.0 286.8,265.7 287.5,267.1 288.2,266.7 289.0,265.4 289.8,266.5 290.5,266.0 291.2,263.5 292.0,263.7 292.8,263.6 293.5,261.8 294.2,260.8 295.0,260.0 295.8,258.4 296.5,257.1 297.2,256.8 298.0,255.8 298.8,257.3 299.5,256.2 300.2,257.6 301.0,257.3 301.8,258.7 302.5,259.5 303.2,260.1 304.0,261.1 304.8,261.8 305.5,262.9 306.2,265.0 307.0,269.1 307.8,273.6 308.5,275.4 309.2,275.9 310.0,280.4 310.8,285.3 311.5,286.8 312.2,288.6 313.0,289.9 313.8,289.4 314.5,288.5 315.2,286.6 316.0,286.3 316.8,284.4 317.5,283.8 318.2,282.1 319.0,280.2 319.8,279.7 320.5,279.1 321.2,278.9 322.0,279.3 322.8,279.1 323.5,280.5 324.2,288.7 325.0,296.1 325.8,298.4 326.5,298.3 327.2,300.5 328.0,302.2 328.8,304.6 329.5,305.8 330.2,306.3 331.0,306.8 331.8,307.5 332.5,307.4 333.2,306.3 334.0,305.2 334.8,303.4 335.5,302.3 336.2,302.6 337.0,303.6 337.8,305.4 338.5,305.9 339.2,304.2 340.0,302.8 340.8,302.8 341.5,301.9 342.2,301.7 343.0,300.7 343.8,300.2 344.5,301.4 345.2,302.0 346.0,303.9 346.8,300.1 347.5,295.4 348.2,290.4 349.0,289.8 349.8,290.1 350.5,290.6 351.2,290.0 352.0,290.2 352.8,290.7 353.5,290.7 354.2,290.2 355.0,288.4 355.8,288.4 356.5,287.1 357.2,287.6 358.0,288.6 358.8,288.7 359.5,289.3 360.2,289.8 361.0,291.4 361.8,291.1 362.5,292.4 363.2,292.1 364.0,292.2 364.8,293.2 365.5,293.5 366.2,297.2 367.0,302.5 367.8,305.9 368.5,306.2 369.2,305.9 370.0,304.3 370.8,304.4 371.5,302.6 372.2,303.6 373.0,302.2 373.8,301.5 374.5,300.5 375.2,299.2 376.0,300.1 376.8,301.8 377.5,303.0 378.2,303.2 379.0,304.8 379.8,304.1 380.5,304.5 381.2,303.2 382.0,301.8 382.8,300.8 383.5,297.7 384.2,300.0 385.0,302.1 385.8,303.5 386.5,305.0 387.2,306.1 388.0,305.0 388.8,301.1 389.5,299.9 390.2,298.7 391.0,298.5 391.8,298.1 392.5,296.8 393.2,297.3 394.0,295.9 394.8,294.6 395.5,294.5 396.2,294.3 397.0,293.7 397.8,292.9 398.5,292.8 399.2,291.1 400.0,286.6 400.8,282.9 401.5,281.1 402.2,280.7 403.0,280.3 403.8,280.1 404.5,279.8 405.2,280.8 406.0,282.2 406.8,282.0 407.5,282.6 408.2,283.4 409.0,283.5 409.8,281.1 410.5,280.3 411.2,279.0 412.0,276.3 412.8,276.6 413.5,275.0 414.2,272.9 415.0,272.9 415.8,272.1 416.5,272.0 417.2,272.3 418.0,270.1 418.8,271.3 419.5,271.8 420.2,272.0 421.0,271.2 421.8,281.1 422.5,285.8 423.2,286.2 424.0,286.2 424.8,285.6 425.5,287.2 426.2,288.5 427.0,290.3 427.8,290.8 428.5,289.0 429.2,287.5 430.0,286.4 430.8,287.3 431.5,288.3 432.2,289.6 433.0,290.6 433.8,290.7 434.5,291.5 435.2,290.9 436.0,290.6 436.8,289.0 437.5,288.3 438.2,286.6 439.0,287.6 439.8,288.5 440.5,289.2 441.2,290.7 442.0,292.4 442.8,293.6 443.5,293.6 444.2,295.4 445.0,296.3 445.8,296.3 446.5,298.2 447.2,297.4 448.0,294.2 448.8,292.1 449.5,289.4 450.2,286.9 451.0,284.4 451.8,282.8 452.5,283.3 453.2,284.1 454.0,285.0 454.8,286.9 455.5,287.8 456.2,288.9 457.0,291.3 457.8,294.0 458.5,294.6 459.2,294.6 460.0,292.9 460.8,292.1 461.5,290.4 462.2,288.2 463.0,288.5 463.8,286.2 464.5,284.3 465.2,283.0 466.0,281.8 466.8,280.9 467.5,278.9 468.2,277.4 469.0,277.3 469.8,277.2 470.5,276.0 471.2,276.1 472.0,276.9 472.8,277.3 473.5,277.7 474.2,275.0 475.0,269.5 475.8,267.8 476.5,268.7 477.2,268.8 478.0,268.0 478.8,266.5 479.5,266.0 480.2,265.0 481.0,264.9 481.8,263.6 482.5,264.0 483.2,264.6 484.0,262.6 484.8,263.3 485.5,262.0 486.2,260.9 487.0,262.4 487.8,261.4 488.5,262.2 489.2,261.7 490.0,260.7 490.8,259.8 491.5,258.2 492.2,258.1 493.0,258.0 493.8,258.8 494.5,257.3 495.2,257.5 496.0,257.9 496.8,259.1 497.5,259.1 498.2,260.1 499.0,260.2 499.8,262.7 500.5,261.5 501.2,263.1 502.0,263.0 502.8,262.7 503.5,261.8 504.2,261.3 505.0,261.6 505.8,261.6 506.5,261.1 507.2,261.0 508.0,261.2 508.8,261.1 509.5,261.5 510.2,261.9 511.0,261.9 511.8,261.1 512.5,260.7 513.2,258.6 514.0,257.8 514.8,256.8 515.5,256.7 516.2,256.1 517.0,256.2 517.8,256.3 518.5,255.7 519.2,254.9 520.0,254.8 520.8,253.8 521.5,250.4 522.2,249.5 523.0,251.4 523.8,251.5 524.5,251.5 525.2,251.8 526.0,251.0 526.8,252.5 527.5,252.2 528.2,250.9 529.0,252.3 529.8,253.1 530.5,253.9 531.2,244.4 532.0,240.5 532.8,237.7 533.5,237.7 534.2,236.2 535.0,235.0 535.8,234.6 536.5,234.2 537.2,232.8 538.0,232.6 538.8,233.2 539.5,232.9 540.2,232.4 541.0,231.4 541.8,230.4 542.5,231.2 543.2,230.4 544.0,229.2 544.8,228.2 545.5,226.9 546.2,226.4 547.0,225.9 547.8,225.8 548.5,225.7 549.2,226.7 550.0,226.8 550.8,226.3 551.5,224.1 552.2,221.7 553.0,221.0 553.8,220.6 554.5,219.1 555.2,219.1 556.0,218.8 556.8,219.5 557.5,219.7 558.2,222.1 559.0,222.6 559.8,224.2 560.5,224.2 561.2,223.8 562.0,221.9 562.8,222.7 563.5,221.4 564.2,221.4 565.0,221.5 565.8,222.4 566.5,220.5 567.2,219.9 568.0,218.5 568.8,216.8 569.5,218.8 570.2,222.9 571.0,225.8 571.8,227.5 572.5,229.5 573.2,228.2 574.0,227.4 574.8,226.2 575.5,225.7 576.2,223.5 577.0,221.9 577.8,221.1 578.5,220.5 579.2,220.1 580.0,219.1 580.8,219.7 581.5,220.9 582.2,222.9 583.0,224.2 583.8,224.9 584.5,225.6 585.2,224.2 586.0,225.4 586.8,225.7 587.5,224.3 588.2,225.1 589.0,223.7 589.8,223.0 590.5,221.1 591.2,219.9 592.0,219.1 592.8,219.4 593.5,218.7 594.2,219.7 595.0,223.9 595.8,227.2 596.5,227.8 597.2,229.0 598.0,230.7 598.8,231.6 599.5,231.2 600.2,232.1 601.0,232.3 601.8,232.8 602.5,236.5 603.2,241.6 604.0,243.1 604.8,244.3 605.5,244.4 606.2,244.1 607.0,243.8 607.8,244.0 608.5,243.9 609.2,244.3 610.0,244.6 610.8,242.8 611.5,242.8 612.2,243.8 613.0,243.2 613.8,243.7 614.5,243.3 615.2,245.5 616.0,245.8 616.8,248.1 617.5,245.7 618.2,244.7 619.0,243.5 619.8,241.1 620.5,240.0 621.2,239.7 622.0,236.9 622.8,236.7 623.5,234.7 624.2,234.9 625.0,234.0 625.8,233.1 626.5,232.6 627.2,233.4 628.0,232.6 628.8,231.8 629.5,233.5 630.2,233.4 631.0,234.2 631.8,235.3 632.5,235.6 633.2,236.4 634.0,237.3 634.8,236.6 635.5,237.3 636.2,237.3 637.0,236.5 637.8,237.9 638.5,238.5 639.2,237.9 640.0,238.9 640.8,240.1 641.5,240.9 642.2,241.3 643.0,242.3 643.8,243.3 644.5,243.3 645.2,244.1 646.0,245.3 646.8,243.7 647.5,244.1 648.2,242.5 649.0,242.5 649.8,239.8 650.5,240.1 651.2,239.3 652.0,238.1 652.8,237.8 653.5,237.5 654.2,237.6 655.0,236.1 655.8,235.8 656.5,235.0 657.2,232.9 658.0,231.1 658.8,229.2 659.5,229.9 660.2,230.0 661.0,230.1 661.8,230.3 662.5,231.8 663.2,233.6 664.0,234.4 664.8,235.8 665.5,238.6 666.2,242.3 667.0,243.8 667.8,243.0 668.5,242.7 669.2,240.4 670.0,239.6 670.8,240.0 671.5,239.8 672.2,238.4 673.0,238.4 673.8,237.3 674.5,235.8 675.2,234.5 676.0,233.6 676.8,232.6 677.5,232.0 678.2,230.4 679.0,229.0 679.8,228.0 680.5,227.6 681.2,227.3 682.0,225.9 682.8,225.7 683.5,226.3 684.2,226.4 685.0,227.5 685.8,227.0 686.5,227.6 687.2,228.9 688.0,227.4 688.8,228.0 689.5,230.4 690.2,232.7 691.0,232.3 691.8,230.8 692.5,229.0 693.2,228.6 694.0,230.0 694.8,230.2 695.5,230.0 696.2,229.9 697.0,230.9 697.8,230.4 698.5,230.5 699.2,230.2 700.0,229.6 700.8,229.6 701.5,229.6 702.2,230.4 703.0,230.7 703.8,232.0 704.5,231.8 705.2,232.8 706.0,231.2 706.8,229.9 707.5,226.6 708.2,228.2 709.0,227.9 709.8,227.3 710.5,227.1 711.2,226.5 712.0,225.2 712.8,226.7 713.5,224.3 714.2,223.9 715.0,222.4 715.8,222.0 716.5,220.3 717.2,221.0 718.0,220.6 718.8,221.1 719.5,221.3 720.2,221.6 721.0,220.6 721.8,219.6 722.5,219.5 723.2,220.8 724.0,227.0 724.8,230.0 725.5,231.4 726.2,232.4 727.0,233.5 727.8,234.6 728.5,236.0 729.2,236.5 730.0,237.9 730.8,236.4 731.5,235.3 732.2,233.9 733.0,232.8 733.8,231.8 734.5,229.8 735.2,229.0 736.0,226.9 736.8,226.2 737.5,226.6 738.2,225.0 739.0,225.8 739.8,224.7 740.5,222.9 741.2,222.9 742.0,221.9 742.8,222.0 743.5,220.9 744.2,220.3 745.0,220.2 745.8,220.0 746.5,219.3 747.2,220.1 748.0,219.9 748.8,219.0 749.5,219.1 750.2,218.9 751.0,219.2 751.8,218.9 752.5,219.1 753.2,219.3 754.0,219.5 754.8,218.0 755.5,217.7 756.2,217.1 757.0,217.3 757.8,217.4 758.5,216.1 759.2,216.2 760.0,215.3 760.8,214.6 761.5,214.4 762.2,214.3 763.0,213.0 763.8,213.6 764.5,215.2 765.2,216.8 766.0,218.1 766.8,216.5 767.5,218.5 768.2,217.6 769.0,217.5 769.8,217.1 770.5,215.1 771.2,216.9 772.0,217.6 772.8,218.5 773.5,219.2 774.2,218.3 775.0,217.8 775.8,218.3 776.5,217.9 777.2,217.6 778.0,216.8 778.8,216.6 779.5,214.6 780.2,214.9 781.0,214.0 781.8,212.3 782.5,210.9 783.2,211.6 784.0,211.5 784.8,211.9 785.5,213.2 786.2,213.5 787.0,212.0 787.8,212.8 788.5,212.2 789.2,210.6 790.0,207.9 790.8,207.1 791.5,206.7 792.2,206.1 793.0,204.1 793.8,203.5 794.5,204.7 795.2,207.6 796.0,209.5 796.8,210.6 797.5,211.4 798.2,210.8 799.0,210.5 799.8,211.0 800.5,210.3 801.2,209.4 802.0,208.9 802.8,207.4 803.5,205.6 804.2,205.9 805.0,205.7 805.8,205.0 806.5,204.8 807.2,204.0 808.0,204.3 808.8,203.1 809.5,203.0 810.2,202.9 811.0,202.9 811.8,201.7 812.5,203.0 813.2,202.8 814.0,202.3 814.8,204.7 815.5,204.8 816.2,206.6 817.0,206.7 817.8,208.5 818.5,208.0 819.2,209.8 820.0,209.5 820.8,208.7 821.5,207.0 822.2,207.7 823.0,207.3 823.8,206.5 824.5,206.2 825.2,205.3 826.0,205.2 826.8,204.5 827.5,205.7 828.2,208.8 829.0,208.7 829.8,207.8 830.5,207.0 831.2,206.4 832.0,207.5 832.8,206.9 833.5,205.5 834.2,204.3 835.0,204.8 835.8,204.6 836.5,205.1 837.2,205.2 838.0,206.4 838.8,206.9 839.5,208.4 840.2,208.6 841.0,208.6 841.8,209.4 842.5,210.0 843.2,210.6 844.0,211.2 844.8,212.6 845.5,211.9 846.2,213.5 847.0,213.3 847.8,213.3 848.5,212.5 849.2,211.7 850.0,212.0 850.8,211.7 851.5,210.2 852.2,210.6 853.0,210.9 853.8,209.0 854.5,209.3 855.2,207.4 856.0,208.5 856.8,207.5 857.5,207.6 858.2,206.7 859.0,206.3 859.8,206.2 860.5,205.5 861.2,205.5 862.0,204.7 862.8,204.9 863.5,205.0 864.2,204.8 865.0,204.1 865.8,204.0 866.5,203.6 867.2,202.6 868.0,201.6 868.8,202.3 869.5,201.3 870.2,202.4 871.0,201.5 871.8,201.3 872.5,201.7 873.2,200.9 874.0,200.1 874.8,200.7 875.5,199.4 876.2,200.4 877.0,199.7 877.8,199.4 878.5,198.5 879.2,199.0 880.0,199.4 880.8,200.3 881.5,203.2 882.2,202.3 883.0,203.2 883.8,203.2 884.5,202.7 885.2,202.0 886.0,201.0 886.8,201.3 887.5,201.6 888.2,201.9 889.0,202.1 889.8,202.7 890.5,202.0 891.2,203.7 892.0,202.6 892.8,204.5 893.5,206.2 894.2,207.4 895.0,209.1 895.8,211.0 896.5,211.1 897.2,211.7 898.0,211.8 898.8,211.6 899.5,211.4 900.2,211.3 901.0,213.6 901.8,216.0 902.2,217.5" fill="none" stroke="#000" stroke-width="3.5" stroke-linejoin="round" stroke-linecap="round"/>
</g>
<g stroke="#404040" stroke-width="1" shape-rendering="crispEdges">
<line x1="51.5" y1="14" x2="51.5" y2="525"/>
<line x1="45" y1="524.5" x2="902.5" y2="524.5"/>
<line x1="45" y1="524.5" x2="56" y2="524.5"/>
<line x1="45" y1="473.5" x2="56" y2="473.5"/>
<line x1="45" y1="422.5" x2="56" y2="422.5"/>
<line x1="45" y1="371.5" x2="56" y2="371.5"/>
<line x1="45" y1="320.5" x2="56" y2="320.5"/>
<line x1="45" y1="269.5" x2="56" y2="269.5"/>
<line x1="45" y1="218.5" x2="56" y2="218.5"/>
<line x1="45" y1="167.5" x2="56" y2="167.5"/>
<line x1="45" y1="116.5" x2="56" y2="116.5"/>
<line x1="45" y1="65.5" x2="56" y2="65.5"/>
<line x1="45" y1="14.5" x2="56" y2="14.5"/>
<line x1="51.5" y1="504.5" x2="56" y2="504.5"/>
<line x1="51.5" y1="483.5" x2="56" y2="483.5"/>
<line x1="51.5" y1="463.5" x2="56" y2="463.5"/>
<line x1="51.5" y1="442.5" x2="56" y2="442.5"/>
<line x1="51.5" y1="402.5" x2="56" y2="402.5"/>
<line x1="51.5" y1="381.5" x2="56" y2="381.5"/>
<line x1="51.5" y1="361.5" x2="56" y2="361.5"/>
<line x1="51.5" y1="340.5" x2="56" y2="340.5"/>
<line x1="51.5" y1="300.5" x2="56" y2="300.5"/>
<line x1="51.5" y1="279.5" x2="56" y2="279.5"/>
<line x1="51.5" y1="259.5" x2="56" y2="259.5"/>
<line x1="51.5" y1="238.5" x2="56" y2="238.5"/>
<line x1="51.5" y1="198.5" x2="56" y2="198.5"/>
<line x1="51.5" y1="177.5" x2="56" y2="177.5"/>
<line x1="51.5" y1="157.5" x2="56" y2="157.5"/>
<line x1="51.5" y1="136.5" x2="56" y2="136.5"/>
<line x1="51.5" y1="96.5" x2="56" y2="96.5"/>
<line x1="51.5" y1="75.5" x2="56" y2="75.5"/>
<line x1="51.5" y1="55.5" x2="56" y2="55.5"/>
<line x1="51.5" y1="34.5" x2="56" y2="34.5"/>
<line x1="51.5" y1="524" x2="51.5" y2="531"/>
<line x1="98.5" y1="524" x2="98.5" y2="531"/>
<line x1="146.5" y1="524" x2="146.5" y2="531"/>
<line x1="195.5" y1="524" x2="195.5" y2="531"/>
<line x1="244.5" y1="524" x2="244.5" y2="531"/>
<line x1="291.5" y1="524" x2="291.5" y2="531"/>
<line x1="339.5" y1="524" x2="339.5" y2="531"/>
<line x1="388.5" y1="524" x2="388.5" y2="531"/>
<line x1="437.5" y1="524" x2="437.5" y2="531"/>
<line x1="485.5" y1="524" x2="485.5" y2="531"/>
<line x1="533.5" y1="524" x2="533.5" y2="531"/>
<line x1="581.5" y1="524" x2="581.5" y2="531"/>
<line x1="630.5" y1="524" x2="630.5" y2="531"/>
<line x1="678.5" y1="524" x2="678.5" y2="531"/>
<line x1="726.5" y1="524" x2="726.5" y2="531"/>
<line x1="774.5" y1="524" x2="774.5" y2="531"/>
<line x1="823.5" y1="524" x2="823.5" y2="531"/>
<line x1="870.5" y1="524" x2="870.5" y2="531"/>
</g>
<g stroke="#868686" stroke-width="1" shape-rendering="crispEdges">
<line x1="902.5" y1="14" x2="902.5" y2="525"/>
<line x1="902.5" y1="524.5" x2="909" y2="524.5"/>
<line x1="902.5" y1="473.5" x2="909" y2="473.5"/>
<line x1="902.5" y1="422.5" x2="909" y2="422.5"/>
<line x1="902.5" y1="371.5" x2="909" y2="371.5"/>
<line x1="902.5" y1="320.5" x2="909" y2="320.5"/>
<line x1="902.5" y1="269.5" x2="909" y2="269.5"/>
<line x1="902.5" y1="218.5" x2="909" y2="218.5"/>
<line x1="902.5" y1="167.5" x2="909" y2="167.5"/>
<line x1="902.5" y1="116.5" x2="909" y2="116.5"/>
<line x1="902.5" y1="65.5" x2="909" y2="65.5"/>
<line x1="902.5" y1="14.5" x2="909" y2="14.5"/>
</g>
<g font-weight="bold" font-size="18" fill="#555555" stroke="#555555" stroke-width="0.5">
<g text-anchor="end"><text x="34.6" y="530.4">90</text><text x="34.6" y="479.4">95</text><text x="34.6" y="428.4">100</text><text x="34.6" y="377.4">105</text><text x="34.6" y="326.4">110</text><text x="34.6" y="275.4">115</text><text x="34.6" y="224.4">120</text><text x="34.6" y="173.4">125</text><text x="34.6" y="122.4">130</text><text x="34.6" y="71.4">135</text><text x="34.6" y="20.4">140</text></g>
<g><text x="919.6" y="530.4">-5,0 %</text><text x="919.6" y="479.4">-2,5 %</text><text x="919.6" y="428.4">0,0 %</text><text x="919.6" y="377.4">2,5 %</text><text x="919.6" y="326.4">5,0 %</text><text x="919.6" y="275.4">7,5 %</text><text x="919.6" y="224.4">10,0 %</text><text x="919.6" y="173.4">12,5 %</text><text x="919.6" y="122.4">15,0 %</text><text x="919.6" y="71.4">17,5 %</text><text x="919.6" y="20.4">20,0 %</text></g>
</g>
<g font-weight="bold" font-size="13" fill="#595959" stroke="#595959" stroke-width="0.25" text-anchor="end"><text transform="translate(48.4,541) rotate(-45)" x="0" y="4.6">1 / 2014</text><text transform="translate(95.5,541) rotate(-45)" x="0" y="4.6">4 / 2014</text><text transform="translate(143.4,541) rotate(-45)" x="0" y="4.6">7 / 2014</text><text transform="translate(192.4,541) rotate(-45)" x="0" y="4.6">10 / 2014</text><text transform="translate(241.3,541) rotate(-45)" x="0" y="4.6">1 / 2015</text><text transform="translate(288.4,541) rotate(-45)" x="0" y="4.6">4 / 2015</text><text transform="translate(336.3,541) rotate(-45)" x="0" y="4.6">7 / 2015</text><text transform="translate(385.2,541) rotate(-45)" x="0" y="4.6">10 / 2015</text><text transform="translate(434.1,541) rotate(-45)" x="0" y="4.6">1 / 2016</text><text transform="translate(482.4,541) rotate(-45)" x="0" y="4.6">4 / 2016</text><text transform="translate(530.6,541) rotate(-45)" x="0" y="4.6">7 / 2016</text><text transform="translate(578.4,541) rotate(-45)" x="0" y="4.6">10 / 2016</text><text transform="translate(627.4,541) rotate(-45)" x="0" y="4.6">1 / 2017</text><text transform="translate(675.6,541) rotate(-45)" x="0" y="4.6">4 / 2017</text><text transform="translate(723.4,541) rotate(-45)" x="0" y="4.6">7 / 2017</text><text transform="translate(771.3,541) rotate(-45)" x="0" y="4.6">10 / 2017</text><text transform="translate(820.6,541) rotate(-45)" x="0" y="4.6">1 / 2018</text><text transform="translate(867.7,541) rotate(-45)" x="0" y="4.6">4 / 2018</text></g>
<!-- legend -->
<rect x="75" y="28.2" width="26" height="7.7" fill="#c6d8ef"/>
<line x1="75.5" y1="58.4" x2="100.5" y2="58.4" stroke="#c8000b" stroke-width="3" stroke-linecap="round"/>
<line x1="75.5" y1="84.4" x2="100.5" y2="84.4" stroke="#000" stroke-width="3" stroke-linecap="round"/>
<g font-size="16" fill="#404040" stroke="#404040" stroke-width="0.75">
<text x="103" y="36.6" textLength="191" lengthAdjust="spacingAndGlyphs">Suhteellinen tuottokehitys</text>
<text x="103" y="62.5" textLength="175" lengthAdjust="spacingAndGlyphs">Korkotuoton metsästäjä</text>
<text x="103.8" y="88.4" textLength="108.5" lengthAdjust="spacingAndGlyphs">Vertailuindeksi</text>
</g>
<!-- boxes -->
<rect x="343.5" y="20.5" width="181" height="90" fill="#1181a5" stroke="#0c7499" stroke-width="1"/>
<g fill="#fff">
<g stroke="#fff" stroke-width="0.3" font-size="17.5">
<text x="381.2" y="46.9" textLength="105.5" lengthAdjust="spacingAndGlyphs">Korkotuoton</text>
<text x="386.3" y="68.8" textLength="94.5" lengthAdjust="spacingAndGlyphs">Metsästäjä</text>
</g>
<text x="398" y="100.6" font-size="22" font-weight="bold" stroke="#fff" stroke-width="0.35" textLength="72" lengthAdjust="spacingAndGlyphs">+ 32 %</text>
</g>
<rect x="590" y="432" width="183" height="83" fill="#000"/>
<g fill="#fff">
<text x="618" y="464.6" font-size="17.5" stroke="#fff" stroke-width="0.3" textLength="127" lengthAdjust="spacingAndGlyphs">Vertailuindeksi</text>
<text x="634.5" y="504.4" font-size="22.5" font-weight="bold" stroke="#fff" stroke-width="0.35" textLength="94" lengthAdjust="spacingAndGlyphs">+ 20,4 %</text>
</g>
<text x="10.5" y="620" font-size="12.3" fill="#8a8a8a" stroke="#8a8a8a" stroke-width="0.25" textLength="367.5" lengthAdjust="spacingAndGlyphs">Lähteet: Thomson Reuters &amp; Investment Intelligence Oy / Sijoittaja.fi</text>
<!-- logo -->
<defs><linearGradient id="lg" x1="0" y1="0" x2="1" y2="1"><stop offset="0" stop-color="#1784a8"/><stop offset="1" stop-color="#1c92b6"/></linearGradient></defs>
<ellipse cx="722.25" cy="608.75" rx="30.75" ry="28.25" fill="url(#lg)"/>
<g fill="#fff">
<polygon points="709.4,596.3 736.7,596.3 736.7,619.4 734,622.1 734,599.1 708.2,599.1"/>
</g>
<line x1="735.3" y1="597.6" x2="698.5" y2="635.2" stroke="#fff" stroke-width="2.9"/>
<g fill="none" stroke="#2a2a2a" stroke-width="4.5">
<path d="M789.4 597.7 C787.5 596.7 785 596.4 780 596.4 A6 4.75 0 0 0 780 605.9 H783.5 A6 4.95 0 0 1 783.5 615.8 C778.5 615.8 775 615.5 772.4 614.3"/>
<path d="M798.1 594.8 V617.9"/>
<path d="M812 594.8 V611.2 A4.6 4.6 0 0 1 807.4 615.8 H804.3"/>
<rect x="820.6" y="596.5" width="20.3" height="19.2" rx="9" ry="8.8"/>
<path d="M849.7 594.7 V617.9"/>
<path d="M856.1 596.8 H874.7 M865.9 596.8 V617.9"/>
<path d="M876.3 596.8 H894.9 M885.25 596.8 V617.9"/>
<path d="M929.5 594.9 V611.5 A4.5 4.5 0 0 1 925 616 H922"/>
</g>
<g fill="#2a2a2a" fill-rule="evenodd">
<path d="M893.3,617.9 L903.5,595 L908.5,595 L918.9,617.9 L914.4,617.9 L911.5,611.6 L900.6,611.6 L897.8,617.9 Z M902.6,608.1 L909.95,608.1 L906,599.6 Z"/>
<path transform="translate(39.7,0)" d="M893.3,617.9 L903.5,595 L908.5,595 L918.9,617.9 L914.4,617.9 L911.5,611.6 L900.6,611.6 L897.8,617.9 Z M902.6,608.1 L909.95,608.1 L906,599.6 Z"/>
<rect x="960.8" y="616.2" width="1.9" height="1.9"/>
</g>
<g fill="none" stroke="#2a2a2a" stroke-width="1.75">
<path d="M965.15 618.1 V606.2 Q965.15 603.2 968.3 603.2 Q970.4 603.2 971.7 604.1"/>
<path d="M971.15 607.9 V618.1"/>
</g>
<path d="M964.3 608.4 H972" stroke="#2a2a2a" stroke-width="1.1"/>
</svg>
</body></html>
